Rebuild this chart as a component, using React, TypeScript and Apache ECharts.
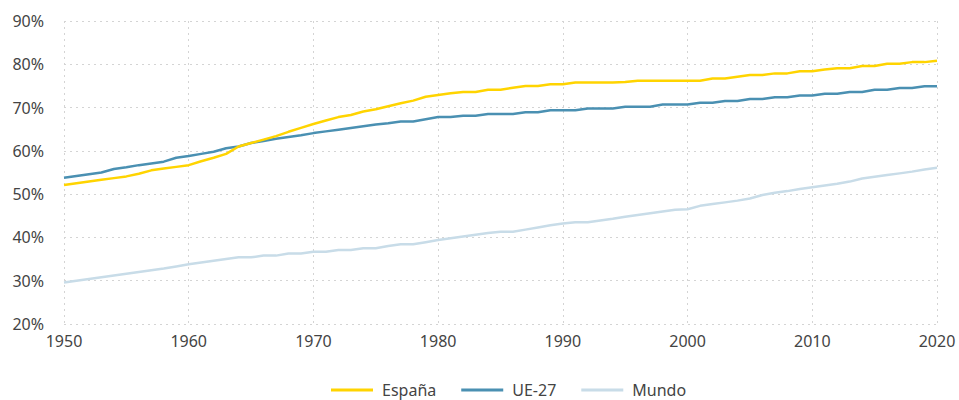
import React, { useEffect, useRef } from "react";
import * as echarts from "echarts";

const years: number[] = [];
for (let y = 1950; y <= 2020; y++) years.push(y);

const espana = [
  52.1, 52.5, 52.9, 53.3, 53.7, 54.1, 54.7, 55.5, 55.9, 56.3,
  56.7, 57.6, 58.4, 59.3, 61.0, 61.8, 62.6, 63.4, 64.4, 65.3,
  66.2, 67.0, 67.8, 68.3, 69.1, 69.6, 70.3, 71.0, 71.6, 72.5,
  72.9, 73.3, 73.6, 73.6, 74.1, 74.1, 74.6, 75.0, 75.0, 75.4,
  75.4, 75.8, 75.8, 75.8, 75.8, 75.9, 76.2, 76.2, 76.2, 76.2,
  76.2, 76.2, 76.7, 76.7, 77.1, 77.5, 77.5, 77.9, 77.9, 78.4,
  78.4, 78.8, 79.1, 79.1, 79.6, 79.6, 80.1, 80.1, 80.5, 80.5,
  80.8,
];

const ue27 = [
  53.8, 54.2, 54.6, 55.0, 55.8, 56.2, 56.7, 57.1, 57.5, 58.4,
  58.8, 59.3, 59.8, 60.6, 61.0, 61.8, 62.3, 62.8, 63.2, 63.6,
  64.1, 64.5, 64.9, 65.3, 65.7, 66.1, 66.4, 66.8, 66.8, 67.3,
  67.8, 67.8, 68.1, 68.1, 68.5, 68.5, 68.5, 68.9, 68.9, 69.4,
  69.4, 69.4, 69.8, 69.8, 69.8, 70.2, 70.2, 70.2, 70.7, 70.7,
  70.7, 71.1, 71.1, 71.5, 71.5, 72.0, 72.0, 72.4, 72.4, 72.8,
  72.8, 73.2, 73.2, 73.6, 73.6, 74.1, 74.1, 74.5, 74.5, 74.9,
  74.9,
];

const mundo = [
  29.6, 30.0, 30.4, 30.8, 31.2, 31.6, 32.0, 32.4, 32.8, 33.3,
  33.8, 34.2, 34.6, 35.0, 35.4, 35.4, 35.8, 35.8, 36.3, 36.3,
  36.7, 36.7, 37.1, 37.1, 37.5, 37.5, 38.0, 38.4, 38.4, 38.9,
  39.4, 39.8, 40.2, 40.6, 41.0, 41.3, 41.3, 41.8, 42.3, 42.8,
  43.2, 43.5, 43.5, 43.9, 44.3, 44.8, 45.2, 45.6, 46.0, 46.4,
  46.5, 47.3, 47.7, 48.1, 48.5, 49.0, 49.8, 50.3, 50.7, 51.2,
  51.6, 52.0, 52.4, 52.9, 53.6, 54.0, 54.4, 54.8, 55.2, 55.7,
  56.1,
];

const seriesNames = ["España", "UE-27", "Mundo"];
const seriesColors = ["#ffd400", "#4a90b2", "#c8dce8"];
const seriesData = [espana, ue27, mundo];

const FONT = "'Noto Sans', sans-serif";

export default function App() {
  const ref = useRef<HTMLDivElement>(null);
  useEffect(() => {
    if (!ref.current) return;
    const chart = echarts.init(ref.current, undefined, { renderer: "svg" });
    chart.setOption({
      animation: false,
      backgroundColor: "#ffffff",
      textStyle: { fontFamily: FONT },
      grid: { left: 64, right: 22, top: 21, bottom: 76 },
      legend: {
        data: seriesNames,
        top: 377,
        left: 326,
        icon: "rect",
        itemWidth: 42,
        itemHeight: 3,
        itemGap: 25,
        textStyle: { color: "#444", fontSize: 16, fontFamily: FONT, padding: [0, 0, 0, 4] },
      },
      xAxis: {
        type: "value",
        min: 1950,
        max: 2020,
        interval: 10,
        axisLine: { show: false },
        axisTick: { show: false },
        axisLabel: {
          color: "#444",
          fontSize: 16,
          margin: 9,
          fontFamily: FONT,
          formatter: (v: number) => String(v),
        },
        splitLine: { show: true, lineStyle: { color: "#d4d4d4", type: [2, 4], width: 1 } },
      },
      yAxis: {
        type: "value",
        min: 20,
        max: 90,
        interval: 10,
        axisLine: { show: false },
        axisTick: { show: false },
        axisLabel: { color: "#444", fontSize: 16, margin: 20, formatter: "{value}%", fontFamily: FONT },
        splitLine: { show: true, lineStyle: { color: "#d4d4d4", type: [2, 4], width: 1 } },
      },
      series: seriesNames.map((name, i) => ({
        name,
        type: "line",
        data: years.map((y, j) => [y, seriesData[i][j]]),
        showSymbol: false,
        symbol: "none",
        z: 3 - i,
        lineStyle: { color: seriesColors[i], width: 2.5 },
        itemStyle: { color: seriesColors[i] },
      })),
    });
    return () => chart.dispose();
  }, []);
  return (
    <div
      ref={ref}
      style={{ position: "fixed", left: 0, top: 0, width: 959, height: 400 }}
    />
  );
}
